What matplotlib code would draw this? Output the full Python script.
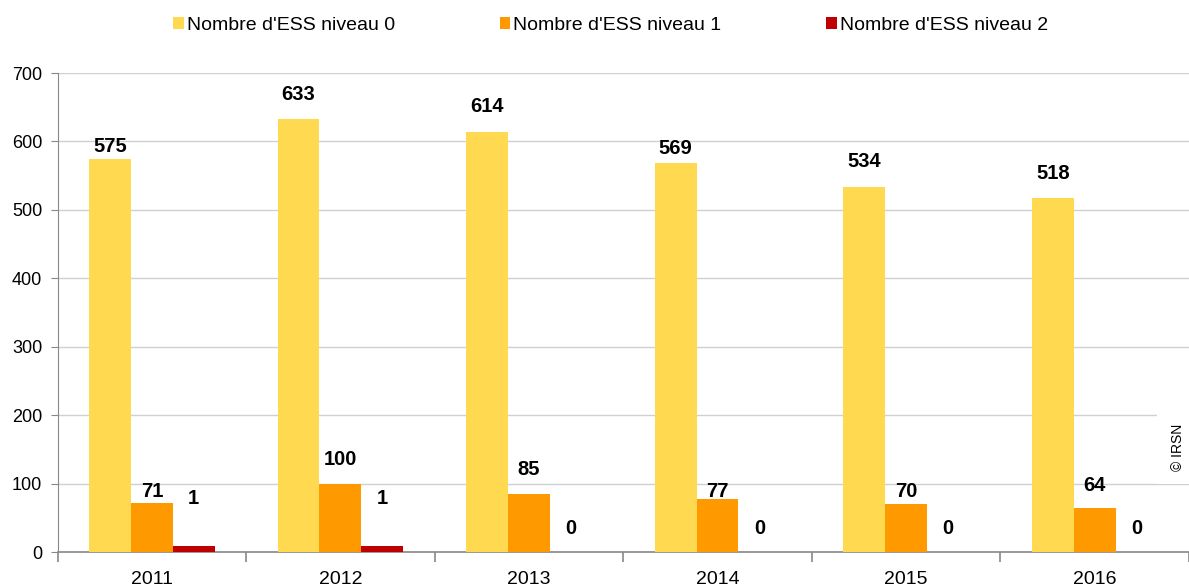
import matplotlib
matplotlib.use("Agg")
import matplotlib.pyplot as plt
import numpy as np

years = ["2011", "2012", "2013", "2014", "2015", "2016"]
niveau0 = [575, 633, 614, 569, 534, 518]
niveau1 = [71, 100, 85, 77, 70, 64]
niveau2 = [1, 1, 0, 0, 0, 0]
series_names = ["Nombre d'ESS niveau 0", "Nombre d'ESS niveau 1", "Nombre d'ESS niveau 2"]
colors = ["#FFDA50", "#FF9900", "#C00000"]

# label offsets above bar top (pixels), style only
off0 = [12, 24, 25, 14, 25, 24]
off1 = [12, 24, 24, 8, 13, 23]
off2 = [47, 47, 24, 24, 24, 24]
MIN_VISIBLE = 9  # minimum drawn height so tiny bars stay visible

plt.rcParams['font.family'] = ['Liberation Sans', 'DejaVu Sans']
fig = plt.figure(figsize=(11.89, 5.88), dpi=100)
ax = fig.add_axes([0.0484, 0.0612, 0.9516, 0.8146])

x = np.arange(len(years))
w = 0.222
series = [niveau0, niveau1, niveau2]
offs = [off0, off1, off2]
handles = []
for i, (vals, c, off) in enumerate(zip(series, colors, offs)):
    vals = np.array(vals)
    heights = np.where(vals > 0, np.maximum(vals, MIN_VISIBLE), 0)
    pos = x + (i - 1) * w
    b = ax.bar(pos, heights, width=w, color=c, zorder=3, label=series_names[i])
    handles.append(b)
    for p, v, h, o in zip(pos, vals, heights, off):
        ax.annotate(str(v), (p, h), xytext=(0, o * 0.72), textcoords='offset points',
                    ha='center', va='center', fontsize=14.5, fontweight='bold', zorder=4)

ax.set_ylim(0, 700)
ax.set_yticks(range(0, 701, 100))
ax.set_xlim(-0.5, len(years) - 0.5)
ax.yaxis.grid(True, color='#D0D0D0', linewidth=1, zorder=0)
ax.set_axisbelow(True)
for s in ['top', 'right']:
    ax.spines[s].set_visible(False)
ax.spines['left'].set_color('#888888')
ax.spines['bottom'].set_color('#888888')
ax.spines['bottom'].set_linewidth(1.2)
ax.tick_params(axis='y', length=5, color='#888888', labelsize=13, pad=6)
ax.set_xticks(x)
ax.set_xticklabels(years, fontsize=14)
ax.tick_params(axis='x', length=0, pad=14)
ax.set_xticks(np.arange(-0.5, len(years), 1), minor=True)
ax.tick_params(axis='x', which='minor', length=7, color='#888888', width=1.2)

fig.legend(handles=handles, loc='upper center', bbox_to_anchor=(0.5135, 1.0), ncol=3,
           frameon=False, fontsize=14, handlelength=0.55, handleheight=0.55,
           handletextpad=0.15, columnspacing=5.4, borderaxespad=0.45)

fig.text(0.991, 0.24, "© IRSN", rotation=90, fontsize=10, ha='center', va='center',
         bbox=dict(facecolor='white', edgecolor='none', pad=10))

fig.savefig("out.png", dpi=100)
